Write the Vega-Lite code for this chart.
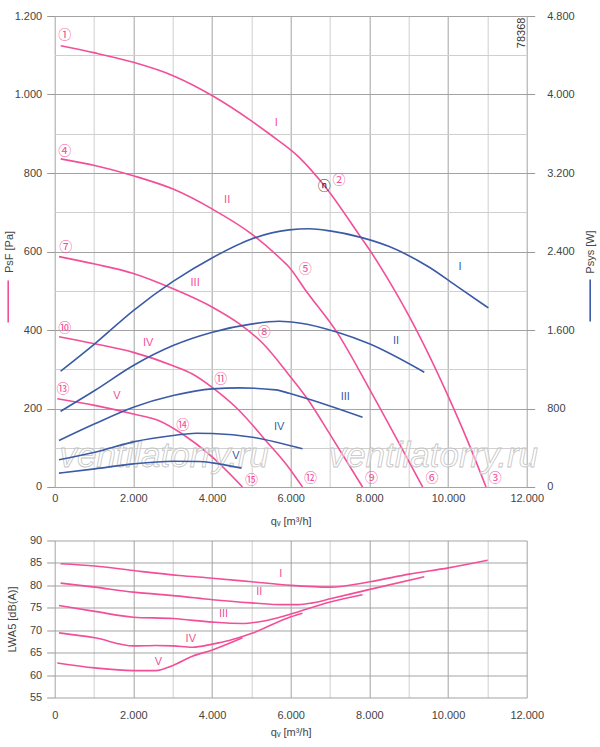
{
  "$schema": "https://vega.github.io/schema/vega-lite/v6.json",
  "padding": {"left": 1.7, "top": 10, "right": 0, "bottom": 0},
  "background": "white",
  "spacing": 7.5,
  "datasets": {
    "psf": [
      {"c": "I", "q": 153, "v": 1124}, {"c": "I", "q": 1018, "v": 1106}, {"c": "I", "q": 2000, "v": 1082}, {"c": "I", "q": 3010, "v": 1048},
      {"c": "I", "q": 4010, "v": 997}, {"c": "I", "q": 5000, "v": 933}, {"c": "I", "q": 5453, "v": 900}, {"c": "I", "q": 6216, "v": 840},
      {"c": "I", "q": 6853, "v": 768}, {"c": "I", "q": 7786, "v": 636}, {"c": "I", "q": 8000, "v": 605}, {"c": "I", "q": 8500, "v": 525},
      {"c": "I", "q": 9000, "v": 437}, {"c": "I", "q": 9500, "v": 339}, {"c": "I", "q": 10000, "v": 232}, {"c": "I", "q": 10500, "v": 117},
      {"c": "I", "q": 10967, "v": 0},
      {"c": "II", "q": 153, "v": 836}, {"c": "II", "q": 1018, "v": 819}, {"c": "II", "q": 2000, "v": 793}, {"c": "II", "q": 3010, "v": 759},
      {"c": "II", "q": 4010, "v": 708}, {"c": "II", "q": 5003, "v": 645}, {"c": "II", "q": 5790, "v": 577}, {"c": "II", "q": 5962, "v": 560},
      {"c": "II", "q": 6387, "v": 500}, {"c": "II", "q": 7191, "v": 392}, {"c": "II", "q": 8000, "v": 250}, {"c": "II", "q": 9000, "v": 66},
      {"c": "II", "q": 9354, "v": 0},
      {"c": "III", "q": 110, "v": 587}, {"c": "III", "q": 1018, "v": 568}, {"c": "III", "q": 2000, "v": 544}, {"c": "III", "q": 3010, "v": 505},
      {"c": "III", "q": 4010, "v": 458}, {"c": "III", "q": 4690, "v": 416}, {"c": "III", "q": 5300, "v": 365}, {"c": "III", "q": 5962, "v": 285},
      {"c": "III", "q": 6428, "v": 224}, {"c": "III", "q": 7000, "v": 134}, {"c": "III", "q": 7827, "v": 0},
      {"c": "IV", "q": 110, "v": 383}, {"c": "IV", "q": 1018, "v": 365}, {"c": "IV", "q": 2000, "v": 343}, {"c": "IV", "q": 3010, "v": 309},
      {"c": "IV", "q": 3501, "v": 288}, {"c": "IV", "q": 4053, "v": 250}, {"c": "IV", "q": 4690, "v": 195}, {"c": "IV", "q": 5369, "v": 118},
      {"c": "IV", "q": 5962, "v": 48}, {"c": "IV", "q": 6300, "v": 0},
      {"c": "V", "q": 66, "v": 225}, {"c": "V", "q": 1018, "v": 208}, {"c": "V", "q": 2000, "v": 186}, {"c": "V", "q": 2654, "v": 169},
      {"c": "V", "q": 3247, "v": 135}, {"c": "V", "q": 4010, "v": 76}, {"c": "V", "q": 4774, "v": 0}
    ],
    "psys": [
      {"c": "I", "q": 150, "w": 1180}, {"c": "I", "q": 1018, "w": 1459}, {"c": "I", "q": 2000, "w": 1798}, {"c": "I", "q": 3010, "w": 2095},
      {"c": "I", "q": 4010, "w": 2337}, {"c": "I", "q": 5003, "w": 2528}, {"c": "I", "q": 5962, "w": 2620}, {"c": "I", "q": 6471, "w": 2632},
      {"c": "I", "q": 7000, "w": 2610}, {"c": "I", "q": 7786, "w": 2544}, {"c": "I", "q": 8506, "w": 2450}, {"c": "I", "q": 9524, "w": 2239},
      {"c": "I", "q": 10203, "w": 2052}, {"c": "I", "q": 11026, "w": 1825},
      {"c": "II", "q": 150, "w": 772}, {"c": "II", "q": 1018, "w": 983}, {"c": "II", "q": 2000, "w": 1238}, {"c": "II", "q": 3010, "w": 1441},
      {"c": "II", "q": 4010, "w": 1577}, {"c": "II", "q": 5028, "w": 1662}, {"c": "II", "q": 5708, "w": 1689}, {"c": "II", "q": 6216, "w": 1672},
      {"c": "II", "q": 7191, "w": 1577}, {"c": "II", "q": 8000, "w": 1459}, {"c": "II", "q": 9397, "w": 1169},
      {"c": "III", "q": 110, "w": 474}, {"c": "III", "q": 1018, "w": 644}, {"c": "III", "q": 2000, "w": 813}, {"c": "III", "q": 3010, "w": 932},
      {"c": "III", "q": 4010, "w": 1000}, {"c": "III", "q": 4690, "w": 1010}, {"c": "III", "q": 5623, "w": 990}, {"c": "III", "q": 5962, "w": 955},
      {"c": "III", "q": 6428, "w": 900}, {"c": "III", "q": 7827, "w": 711},
      {"c": "IV", "q": 110, "w": 277}, {"c": "IV", "q": 1018, "w": 354}, {"c": "IV", "q": 2000, "w": 460}, {"c": "IV", "q": 3010, "w": 525},
      {"c": "IV", "q": 3600, "w": 548}, {"c": "IV", "q": 4010, "w": 545}, {"c": "IV", "q": 5028, "w": 507}, {"c": "IV", "q": 6300, "w": 389},
      {"c": "V", "q": 110, "w": 141}, {"c": "V", "q": 1018, "w": 185}, {"c": "V", "q": 2000, "w": 236}, {"c": "V", "q": 3010, "w": 263},
      {"c": "V", "q": 3672, "w": 260}, {"c": "V", "q": 4010, "w": 246}, {"c": "V", "q": 4750, "w": 192}
    ],
    "lwa": [
      {"c": "I", "q": 150, "l": 84.8}, {"c": "I", "q": 1018, "l": 84.3}, {"c": "I", "q": 2000, "l": 83.3}, {"c": "I", "q": 3163, "l": 82.2},
      {"c": "I", "q": 4010, "l": 81.6}, {"c": "I", "q": 5013, "l": 80.8}, {"c": "I", "q": 6005, "l": 80.0}, {"c": "I", "q": 7005, "l": 79.6},
      {"c": "I", "q": 8015, "l": 80.8}, {"c": "I", "q": 9015, "l": 82.5}, {"c": "I", "q": 10008, "l": 83.9}, {"c": "I", "q": 11008, "l": 85.6},
      {"c": "II", "q": 150, "l": 80.5}, {"c": "II", "q": 1018, "l": 79.6}, {"c": "II", "q": 2000, "l": 78.5}, {"c": "II", "q": 3163, "l": 77.6},
      {"c": "II", "q": 4010, "l": 76.8}, {"c": "II", "q": 5013, "l": 76.1}, {"c": "II", "q": 5790, "l": 75.7}, {"c": "II", "q": 6200, "l": 75.7},
      {"c": "II", "q": 6555, "l": 76.1}, {"c": "II", "q": 7005, "l": 77.0}, {"c": "II", "q": 8015, "l": 79.1}, {"c": "II", "q": 9397, "l": 81.9},
      {"c": "III", "q": 110, "l": 75.5}, {"c": "III", "q": 1018, "l": 74.2}, {"c": "III", "q": 2000, "l": 72.9}, {"c": "III", "q": 3010, "l": 72.6},
      {"c": "III", "q": 4010, "l": 71.8}, {"c": "III", "q": 4760, "l": 71.5}, {"c": "III", "q": 5283, "l": 72.0}, {"c": "III", "q": 6005, "l": 73.6},
      {"c": "III", "q": 7005, "l": 76.3}, {"c": "III", "q": 7827, "l": 77.9},
      {"c": "IV", "q": 110, "l": 69.4}, {"c": "IV", "q": 1018, "l": 68.3}, {"c": "IV", "q": 2000, "l": 66.5}, {"c": "IV", "q": 2565, "l": 66.6},
      {"c": "IV", "q": 3010, "l": 66.5}, {"c": "IV", "q": 3501, "l": 66.2}, {"c": "IV", "q": 4010, "l": 66.9}, {"c": "IV", "q": 4435, "l": 67.7},
      {"c": "IV", "q": 5013, "l": 69.3}, {"c": "IV", "q": 6005, "l": 73.0}, {"c": "IV", "q": 6300, "l": 73.8},
      {"c": "V", "q": 66, "l": 62.7}, {"c": "V", "q": 1018, "l": 61.6}, {"c": "V", "q": 2000, "l": 61.0}, {"c": "V", "q": 2565, "l": 61.0},
      {"c": "V", "q": 2993, "l": 62.1}, {"c": "V", "q": 3501, "l": 64.2}, {"c": "V", "q": 4010, "l": 65.6}, {"c": "V", "q": 4774, "l": 68.3}
    ],
    "psfLabels": [
      {"t": "I", "q": 5631, "v": 928}, {"t": "II", "q": 4384, "v": 732}, {"t": "III", "q": 3570, "v": 521},
      {"t": "IV", "q": 2374, "v": 368}, {"t": "V", "q": 1580, "v": 233}
    ],
    "points": [
      {"t": "①", "q": 254, "v": 1151}, {"t": "④", "q": 254, "v": 855}, {"t": "⑦", "q": 280, "v": 612},
      {"t": "⑩", "q": 254, "v": 404}, {"t": "⑬", "q": 211, "v": 250},
      {"t": "②", "q": 7225, "v": 783}, {"t": "⑤", "q": 6369, "v": 555}, {"t": "⑧", "q": 5326, "v": 395},
      {"t": "⑪", "q": 4220, "v": 274}, {"t": "⑭", "q": 3255, "v": 157},
      {"t": "③", "q": 11200, "v": 22}, {"t": "⑥", "q": 9592, "v": 22}, {"t": "⑨", "q": 8052, "v": 22},
      {"t": "⑫", "q": 6505, "v": 22}, {"t": "⑮", "q": 5004, "v": 19}
    ],
    "optimum": [{"t": "ⓝ", "q": 6853, "v": 768}],
    "chartNo": [{"t": "78368", "q": 11870, "v": 1157}],
    "watermark": [{"t": "ventilatorry.ru", "q": 2781, "v": 80}, {"t": "ventilatorry.ru", "q": 9626, "v": 80}],
    "psysLabels": [
      {"t": "I", "q": 10305, "w": 2244}, {"t": "II", "q": 8677, "w": 1492}, {"t": "III", "q": 7387, "w": 916},
      {"t": "IV", "q": 5707, "w": 608}, {"t": "V", "q": 4606, "w": 320}
    ],
    "lwaLabels": [
      {"t": "I", "q": 5750, "l": 82.6}, {"t": "II", "q": 5199, "l": 78.45}, {"t": "III", "q": 4291, "l": 73.6},
      {"t": "IV", "q": 3460, "l": 68.1}, {"t": "V", "q": 2637, "l": 62.9}
    ]
  },
  "vconcat": [
    {
      "width": 472,
      "height": 471,
      "resolve": {"scale": {"y": "independent", "color": "independent"}},
      "layer": [
        {
          "layer": [
            {
              "data": {"name": "psf"},
              "mark": {"type": "line", "interpolate": "monotone", "strokeWidth": 1.6},
              "encoding": {
                "x": {
                  "field": "q", "type": "quantitative",
                  "scale": {"domain": [0, 12000], "nice": false},
                  "axis": {
                    "values": [0, 1000, 2000, 3000, 4000, 5000, 6000, 7000, 8000, 9000, 10000, 11000, 12000],
                    "tickCount": 13,
                    "labelExpr": "datum.value % 2000 == 0 ? replace(format(datum.value, ','), ',', '.') : ''",
                    "ticks": false, "labelPadding": 6, "labelFlush": false,
                    "gridColor": {"condition": {"test": "datum.value % 2000 == 0", "value": "#a3a3a3"}, "value": "#cfcfcf"},
                    "title": "qᵥ [m³/h]", "titlePadding": 12
                  }
                },
                "y": {
                  "field": "v", "type": "quantitative",
                  "scale": {"domain": [0, 1200], "nice": false},
                  "axis": {
                    "values": [0, 100, 200, 300, 400, 500, 600, 700, 800, 900, 1000, 1100, 1200],
                    "tickCount": 13,
                    "labelExpr": "datum.value % 200 == 0 ? replace(format(datum.value, ','), ',', '.') : ''",
                    "tickSize": 8,
                    "tickOpacity": {"condition": {"test": "datum.value % 200 == 0", "value": 1}, "value": 0},
                    "labelPadding": 5,
                    "gridColor": {"condition": {"test": "datum.value % 200 == 0", "value": "#a3a3a3"}, "value": "#cfcfcf"},
                    "title": "PsF [Pa]", "titlePadding": 0
                  }
                },
                "detail": {"field": "c"},
                "color": {
                  "datum": "PsF", "type": "nominal",
                  "scale": {"domain": ["PsF"], "range": ["#f24f98"]},
                  "legend": {
                    "orient": "none", "legendX": -53, "legendY": 279, "title": null, "labelExpr": "''",
                    "symbolType": "M0,-4L0,4", "symbolSize": 110, "symbolStrokeWidth": 1.6, "padding": 0,
                    "labelOffset": 0, "labelLimit": 1
                  }
                }
              }
            },
            {
              "data": {"name": "psfLabels"},
              "mark": {"type": "text", "font": "Liberation Sans", "fontSize": 11, "color": "#f24f98"},
              "encoding": {
                "x": {"field": "q", "type": "quantitative"},
                "y": {"field": "v", "type": "quantitative"},
                "text": {"field": "t"}
              }
            },
            {
              "data": {"name": "points"},
              "mark": {"type": "text", "font": "Noto Sans CJK JP", "fontSize": 13, "color": "#f24f98"},
              "encoding": {
                "x": {"field": "q", "type": "quantitative"},
                "y": {"field": "v", "type": "quantitative"},
                "text": {"field": "t"}
              }
            },
            {
              "data": {"name": "optimum"},
              "mark": {"type": "text", "font": "Noto Sans CJK JP", "fontSize": 13, "color": "#222"},
              "encoding": {
                "x": {"field": "q", "type": "quantitative"},
                "y": {"field": "v", "type": "quantitative"},
                "text": {"field": "t"}
              }
            },
            {
              "data": {"name": "chartNo"},
              "mark": {"type": "text", "font": "Liberation Sans", "fontSize": 11, "color": "#333", "angle": 270},
              "encoding": {
                "x": {"field": "q", "type": "quantitative"},
                "y": {"field": "v", "type": "quantitative"},
                "text": {"field": "t"}
              }
            },
            {
              "data": {"name": "watermark"},
              "mark": {
                "type": "text", "font": "Liberation Sans", "fontSize": 35, "fontStyle": "italic",
                "fill": "#ffffff", "fillOpacity": 0.45, "stroke": "#c4c4c4", "strokeWidth": 0.8
              },
              "encoding": {
                "x": {"field": "q", "type": "quantitative"},
                "y": {"field": "v", "type": "quantitative"},
                "text": {"field": "t"}
              }
            }
          ]
        },
        {
          "layer": [
            {
              "data": {"name": "psys"},
              "mark": {"type": "line", "interpolate": "monotone", "strokeWidth": 1.6},
              "encoding": {
                "x": {"field": "q", "type": "quantitative"},
                "y": {
                  "field": "w", "type": "quantitative",
                  "scale": {"domain": [0, 4800], "nice": false},
                  "axis": {
                    "orient": "right",
                    "values": [0, 800, 1600, 2400, 3200, 4000, 4800],
                    "tickCount": 7,
                    "labelExpr": "replace(format(datum.value, ','), ',', '.')",
                    "tickSize": 8, "labelPadding": 12, "grid": false,
                    "title": "Psys [W]", "titleAngle": 270, "titleBaseline": "top", "titlePadding": 10
                  }
                },
                "detail": {"field": "c"},
                "color": {
                  "datum": "Psys", "type": "nominal",
                  "scale": {"domain": ["Psys"], "range": ["#3b5ba7"]},
                  "legend": {
                    "orient": "none", "legendX": 529, "legendY": 278, "title": null, "labelExpr": "''",
                    "symbolType": "M0,-4L0,4", "symbolSize": 110, "symbolStrokeWidth": 1.6, "padding": 0,
                    "labelOffset": 0, "labelLimit": 1
                  }
                }
              }
            },
            {
              "data": {"name": "psysLabels"},
              "mark": {"type": "text", "font": "Liberation Sans", "fontSize": 11, "color": "#3b5ba7"},
              "encoding": {
                "x": {"field": "q", "type": "quantitative"},
                "y": {"field": "w", "type": "quantitative"},
                "text": {"field": "t"}
              }
            }
          ]
        }
      ]
    },
    {
      "width": 472,
      "height": 157,
      "layer": [
        {
          "data": {"name": "lwa"},
          "mark": {"type": "line", "interpolate": "monotone", "strokeWidth": 1.6, "color": "#f24f98"},
          "encoding": {
            "x": {
              "field": "q", "type": "quantitative",
              "scale": {"domain": [0, 12000], "nice": false},
              "axis": {
                "values": [0, 1000, 2000, 3000, 4000, 5000, 6000, 7000, 8000, 9000, 10000, 11000, 12000],
                "tickCount": 13,
                "labelExpr": "datum.value % 2000 == 0 ? replace(format(datum.value, ','), ',', '.') : ''",
                "ticks": false, "labelPadding": 12, "labelFlush": false,
                "gridColor": {"condition": {"test": "datum.value % 2000 == 0", "value": "#a3a3a3"}, "value": "#cfcfcf"},
                "title": "qᵥ [m³/h]", "titlePadding": 6
              }
            },
            "y": {
              "field": "l", "type": "quantitative",
              "scale": {"domain": [55, 90], "nice": false, "zero": false},
              "axis": {
                "values": [55, 60, 65, 70, 75, 80, 85, 90],
                "tickCount": 8,
                "tickSize": 8, "labelPadding": 5, "gridColor": "#a3a3a3",
                "title": "LWA5 [dB(A)]", "titlePadding": 12
              }
            },
            "detail": {"field": "c"}
          }
        },
        {
          "data": {"name": "lwaLabels"},
          "mark": {"type": "text", "font": "Liberation Sans", "fontSize": 11, "color": "#f24f98"},
          "encoding": {
            "x": {"field": "q", "type": "quantitative"},
            "y": {"field": "l", "type": "quantitative"},
            "text": {"field": "t"}
          }
        }
      ]
    }
  ],
  "config": {
    "font": "Liberation Sans",
    "view": {"stroke": null},
    "axis": {
      "labelFont": "Liberation Sans", "labelFontSize": 11, "labelColor": "#444", "labelOverlap": false,
      "titleFont": "Liberation Sans", "titleFontSize": 11, "titleFontWeight": "normal", "titleColor": "#444",
      "domain": false, "tickColor": "#999", "gridWidth": 1
    }
  }
}
